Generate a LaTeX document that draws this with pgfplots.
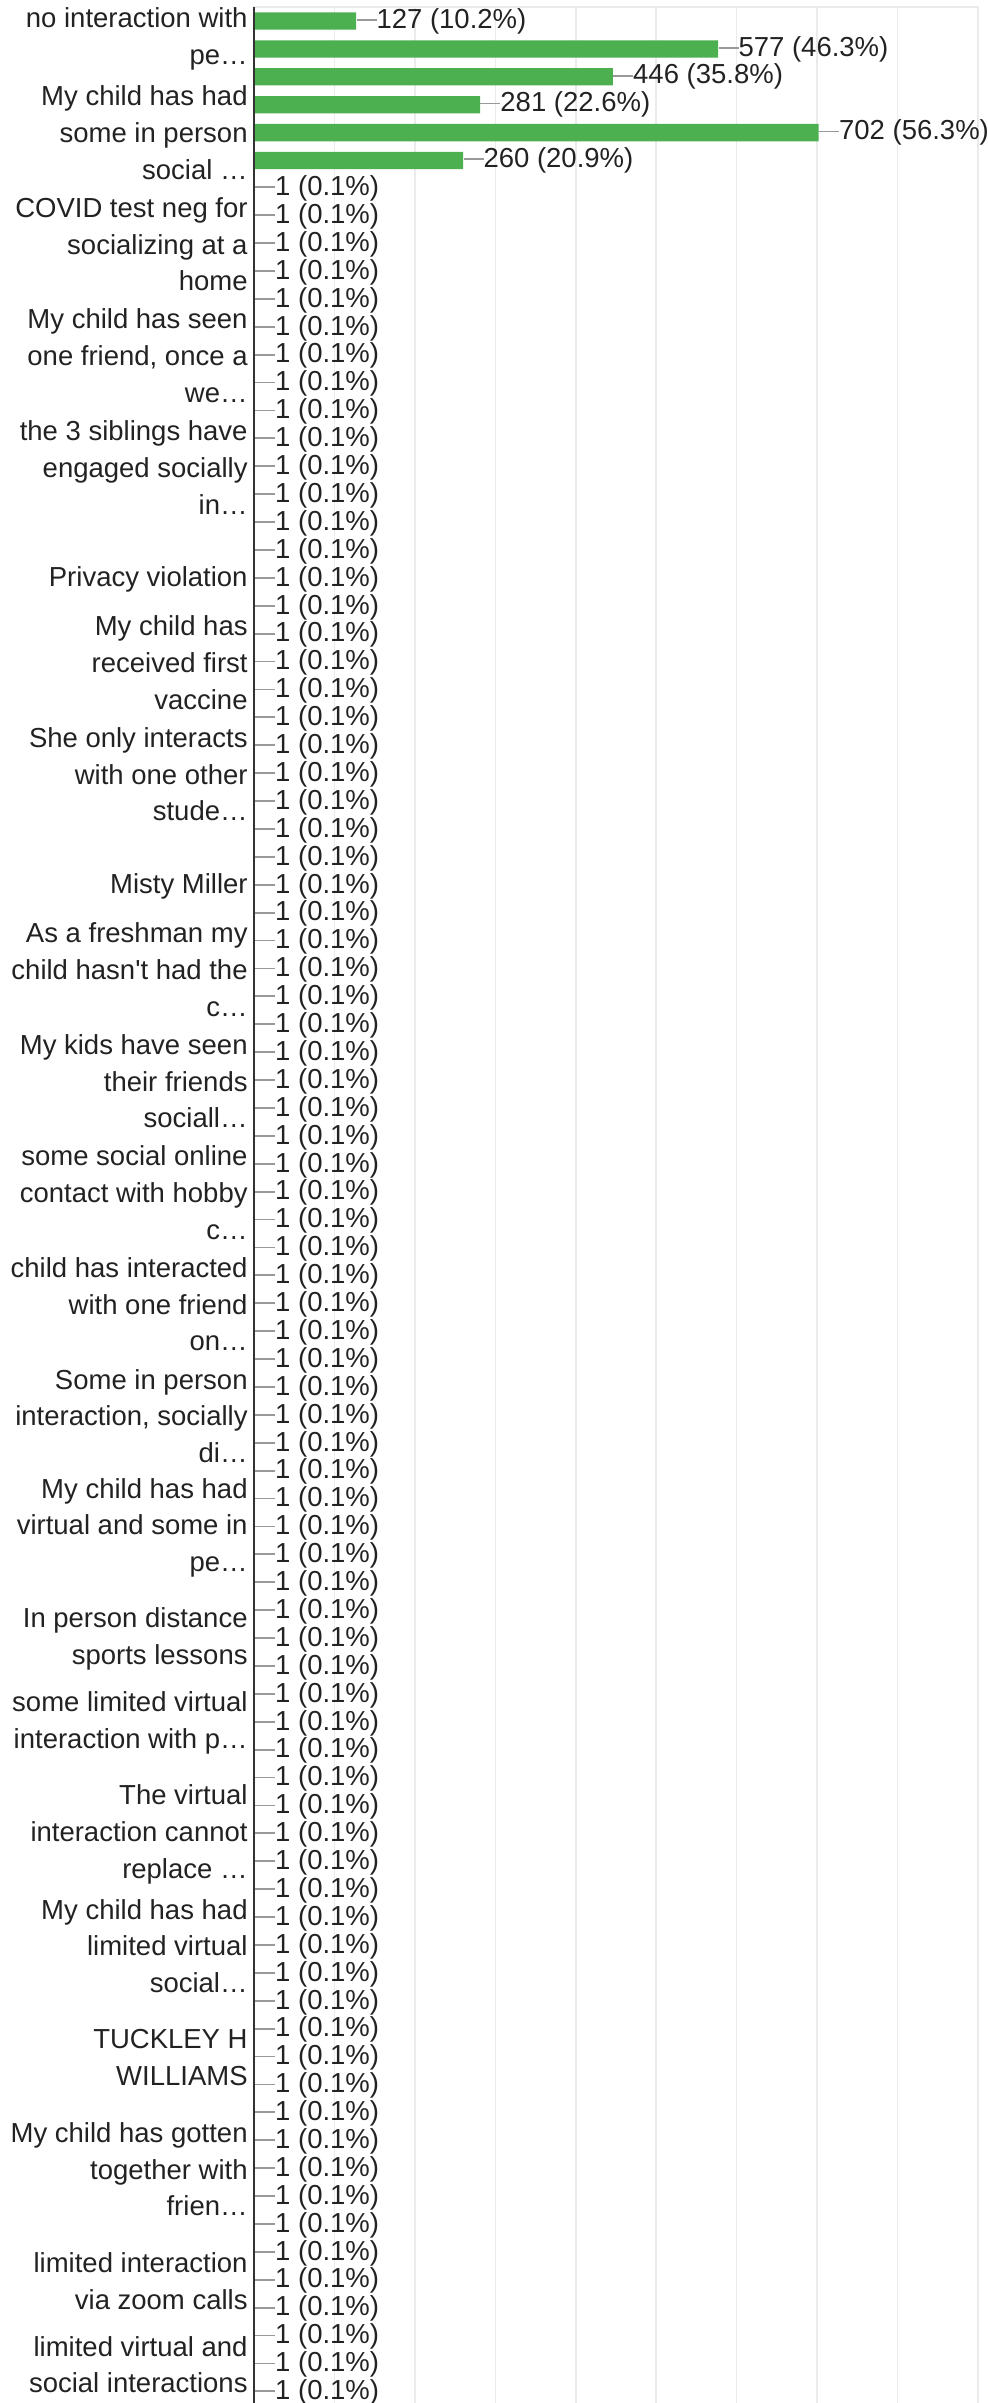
\documentclass[border=0pt]{standalone}
\usepackage{fontspec}
\usepackage{pgfplots}
\pgfplotsset{compat=1.18}
\newfontfamily\lsans{Liberation Sans}
\definecolor{barGreen}{HTML}{4CAF50}
\definecolor{gridGray}{HTML}{EBEBEB}
\definecolor{axisDark}{HTML}{333333}
\definecolor{txt}{HTML}{222222}
\definecolor{leader}{HTML}{999999}
\newcommand{\lfont}{\lsans\fontsize{13.75}{18.35}\selectfont}
\newcommand{\leaderline}{\textcolor{leader}{\rule[\dimexpr0.3em-0.45pt\relax]{10pt}{0.9pt}}}
\begin{document}
\begin{tikzpicture}
\begin{axis}[
  at={(0pt,0pt)}, anchor=south west,
  scale only axis, width=362pt, height=1199.7pt,
  xmin=0, xmax=900, ymin=-0.5, ymax=85.5,
  y dir=reverse,
  xbar, bar width=0.62,
  xtick={0,100,...,900}, xticklabels={},
  xmajorgrids, grid style={draw=gridGray, line width=0.8pt},
  ytick={0,4,8,12,16,20,23,27,31,34,38,42,46,50,54,58,61,65,69,73,77,81,84},
  yticklabels={
    {\vphantom{My}\\no interaction with\\pe…},
    {My child has had\\some in person\\social …},
    {COVID test neg for\\socializing at a\\home},
    {My child has seen\\one friend, once a\\we…},
    {the 3 siblings have\\engaged socially\\in…},
    {Privacy violation},
    {My child has\\received first\\vaccine},
    {She only interacts\\with one other\\stude…},
    {Misty Miller},
    {As a freshman my\\child hasn't had the\\c…},
    {My kids have seen\\their friends\\sociall…},
    {some social online\\contact with hobby\\c…},
    {child has interacted\\with one friend\\on…},
    {Some in person\\interaction, socially\\di…},
    {My child has had\\virtual and some in\\pe…},
    {In person distance\\sports lessons},
    {some limited virtual\\interaction with p…},
    {The virtual\\interaction cannot\\replace …},
    {My child has had\\limited virtual\\social…},
    {TUCKLEY H\\WILLIAMS},
    {My child has gotten\\together with\\frien…},
    {limited interaction\\via zoom calls},
    {limited virtual and\\social interactions}
  },
  yticklabel style={font=\lfont, text=txt, align=right, inner xsep=3pt, inner ysep=0pt},
  major tick length=0pt,
  axis line style={draw=gridGray, line width=0.8pt},
  clip=false,
]
\addplot[xbar, fill=barGreen, draw=none, point meta=explicit symbolic,
  nodes near coords={\leaderline\pgfplotspointmeta},
  every node near coord/.append style={anchor=west, inner sep=0pt, font=\lfont, text=txt}]
  table[col sep=comma, row sep=\\, x=v, y=i, meta=lab] {
i,v,lab\\
0,127,127 (10.2\%)\\
1,577,577 (46.3\%)\\
2,446,446 (35.8\%)\\
3,281,281 (22.6\%)\\
4,702,702 (56.3\%)\\
5,260,260 (20.9\%)\\
6,1,1 (0.1\%)\\
7,1,1 (0.1\%)\\
8,1,1 (0.1\%)\\
9,1,1 (0.1\%)\\
10,1,1 (0.1\%)\\
11,1,1 (0.1\%)\\
12,1,1 (0.1\%)\\
13,1,1 (0.1\%)\\
14,1,1 (0.1\%)\\
15,1,1 (0.1\%)\\
16,1,1 (0.1\%)\\
17,1,1 (0.1\%)\\
18,1,1 (0.1\%)\\
19,1,1 (0.1\%)\\
20,1,1 (0.1\%)\\
21,1,1 (0.1\%)\\
22,1,1 (0.1\%)\\
23,1,1 (0.1\%)\\
24,1,1 (0.1\%)\\
25,1,1 (0.1\%)\\
26,1,1 (0.1\%)\\
27,1,1 (0.1\%)\\
28,1,1 (0.1\%)\\
29,1,1 (0.1\%)\\
30,1,1 (0.1\%)\\
31,1,1 (0.1\%)\\
32,1,1 (0.1\%)\\
33,1,1 (0.1\%)\\
34,1,1 (0.1\%)\\
35,1,1 (0.1\%)\\
36,1,1 (0.1\%)\\
37,1,1 (0.1\%)\\
38,1,1 (0.1\%)\\
39,1,1 (0.1\%)\\
40,1,1 (0.1\%)\\
41,1,1 (0.1\%)\\
42,1,1 (0.1\%)\\
43,1,1 (0.1\%)\\
44,1,1 (0.1\%)\\
45,1,1 (0.1\%)\\
46,1,1 (0.1\%)\\
47,1,1 (0.1\%)\\
48,1,1 (0.1\%)\\
49,1,1 (0.1\%)\\
50,1,1 (0.1\%)\\
51,1,1 (0.1\%)\\
52,1,1 (0.1\%)\\
53,1,1 (0.1\%)\\
54,1,1 (0.1\%)\\
55,1,1 (0.1\%)\\
56,1,1 (0.1\%)\\
57,1,1 (0.1\%)\\
58,1,1 (0.1\%)\\
59,1,1 (0.1\%)\\
60,1,1 (0.1\%)\\
61,1,1 (0.1\%)\\
62,1,1 (0.1\%)\\
63,1,1 (0.1\%)\\
64,1,1 (0.1\%)\\
65,1,1 (0.1\%)\\
66,1,1 (0.1\%)\\
67,1,1 (0.1\%)\\
68,1,1 (0.1\%)\\
69,1,1 (0.1\%)\\
70,1,1 (0.1\%)\\
71,1,1 (0.1\%)\\
72,1,1 (0.1\%)\\
73,1,1 (0.1\%)\\
74,1,1 (0.1\%)\\
75,1,1 (0.1\%)\\
76,1,1 (0.1\%)\\
77,1,1 (0.1\%)\\
78,1,1 (0.1\%)\\
79,1,1 (0.1\%)\\
80,1,1 (0.1\%)\\
81,1,1 (0.1\%)\\
82,1,1 (0.1\%)\\
83,1,1 (0.1\%)\\
84,1,1 (0.1\%)\\
85,1,1 (0.1\%)\\
};
\draw[axisDark, line width=0.75pt] (axis cs:0,-0.5) -- (axis cs:0,85.5);
\end{axis}
\pgfresetboundingbox
\useasboundingbox (-127pt,1.7pt) rectangle (366.5pt,1203.2pt);
\end{tikzpicture}
\end{document}
